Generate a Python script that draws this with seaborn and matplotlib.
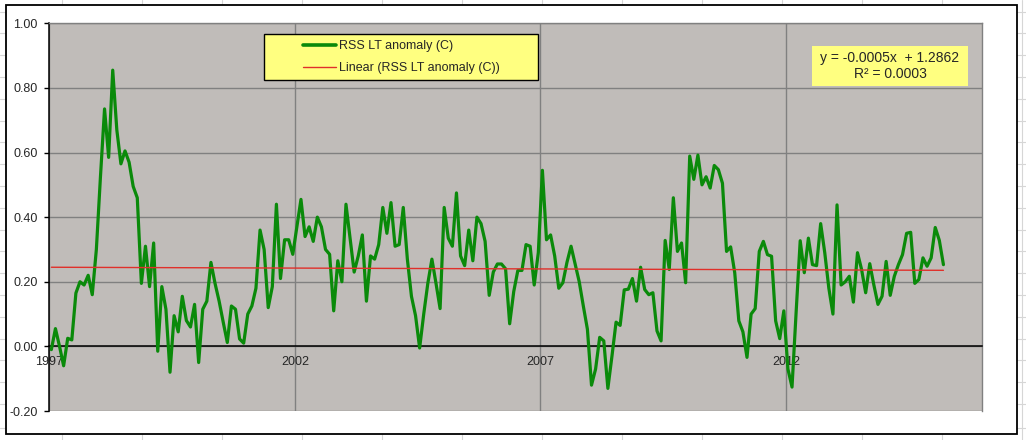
import numpy as np
import pandas as pd
import matplotlib
matplotlib.use("Agg")
import matplotlib.pyplot as plt
from matplotlib.patches import Rectangle
from matplotlib.lines import Line2D
from matplotlib.ticker import FormatStrFormatter
import seaborn as sns

# --- dados ---
start_year = 1997
anomaly = [
    -0.01, 0.055, 0.00, -0.06, 0.025, 0.02, 0.165, 0.20, 0.19, 0.22, 0.16, 0.30,      # 1997
    0.525, 0.735, 0.585, 0.855, 0.67, 0.565, 0.605, 0.57, 0.495, 0.46, 0.195, 0.31,   # 1998
    0.185, 0.32, -0.015, 0.185, 0.115, -0.08, 0.095, 0.045, 0.155, 0.08, 0.06, 0.13,  # 1999
    -0.05, 0.115, 0.14, 0.26, 0.195, 0.14, 0.075, 0.012, 0.125, 0.115, 0.023, 0.01,   # 2000
    0.10, 0.125, 0.18, 0.36, 0.30, 0.12, 0.185, 0.44, 0.21, 0.33, 0.33, 0.285,        # 2001
    0.37, 0.455, 0.34, 0.37, 0.325, 0.40, 0.37, 0.30, 0.285, 0.11, 0.265, 0.20,       # 2002
    0.44, 0.335, 0.23, 0.28, 0.345, 0.14, 0.28, 0.27, 0.315, 0.43, 0.35, 0.445,       # 2003
    0.31, 0.315, 0.43, 0.27, 0.155, 0.095, -0.005, 0.10, 0.195, 0.27, 0.195, 0.117,   # 2004
    0.43, 0.335, 0.31, 0.475, 0.28, 0.25, 0.36, 0.265, 0.40, 0.38, 0.325, 0.158,      # 2005
    0.23, 0.255, 0.255, 0.24, 0.07, 0.17, 0.235, 0.235, 0.315, 0.31, 0.19, 0.29,      # 2006
    0.545, 0.33, 0.345, 0.28, 0.18, 0.197, 0.26, 0.31, 0.255, 0.20, 0.125, 0.053,     # 2007
    -0.12, -0.07, 0.028, 0.017, -0.13, -0.03, 0.075, 0.065, 0.175, 0.177, 0.21, 0.14, # 2008
    0.245, 0.176, 0.16, 0.166, 0.048, 0.017, 0.328, 0.238, 0.46, 0.294, 0.32, 0.197,  # 2009
    0.589, 0.517, 0.592, 0.50, 0.525, 0.49, 0.56, 0.547, 0.505, 0.294, 0.308, 0.228,  # 2010
    0.079, 0.045, -0.034, 0.10, 0.117, 0.294, 0.325, 0.284, 0.279, 0.079, 0.024, 0.11,# 2011
    -0.07, -0.126, 0.105, 0.327, 0.228, 0.335, 0.253, 0.25, 0.38, 0.29, 0.18, 0.10,   # 2012
    0.438, 0.19, 0.20, 0.217, 0.137, 0.29, 0.238, 0.166, 0.256, 0.19, 0.13, 0.155,    # 2013
    0.263, 0.158, 0.217, 0.253, 0.284, 0.35, 0.353, 0.195, 0.207, 0.274, 0.248, 0.274,# 2014
    0.368, 0.328, 0.253,                                                              # 2015
]
x_ticks = [1997, 2002, 2007, 2012]
y_ticks = [-0.20, 0.00, 0.20, 0.40, 0.60, 0.80, 1.00]
series_label = "RSS LT anomaly (C)"
trend_label = "Linear (RSS LT anomaly (C))"
eq_text = "y = -0.0005x  + 1.2862"
r2_text = "R\u00b2 = 0.0003"

GREEN = "#0A8A0A"
RED = "#E0302A"
PLOT_BG = "#C0BCB9"
GRID = "#808080"
YELLOW = "#FFFF80"

df = pd.DataFrame({"anomaly": anomaly})
df["year"] = start_year + (np.arange(len(df)) + 0.5) / 12.0

slope, intercept = np.polyfit(df["year"], df["anomaly"], 1)
trend = pd.DataFrame({"year": df["year"].iloc[[0, -1]].values})
trend["fit"] = slope * trend["year"] + intercept

sns.set_style("white")
plt.rcParams["font.family"] = ["Liberation Sans", "DejaVu Sans"]
plt.rcParams["font.size"] = 9

W, H = 1026, 440
fig = plt.figure(figsize=(W / 100, H / 100), dpi=100)
fig.patch.set_facecolor("white")

def fx(px):
    return px / W

def fy(py):
    return 1 - py / H

# linhas da planilha por tras do grafico
for cx in np.arange(61.7, W, 80):
    fig.add_artist(Line2D([fx(cx), fx(cx)], [0, 1], color="#D6D6D6", lw=0.8, zorder=0))
for ry in np.arange(404, 0, -21.8):
    fig.add_artist(Line2D([0, 1], [fy(ry), fy(ry)], color="#D6D6D6", lw=0.8, zorder=0))
fig.add_artist(Line2D([0, 1], [fy(427.8), fy(427.8)], color="#D6D6D6", lw=0.8, zorder=0))

# area do grafico
fig.add_artist(Rectangle((fx(5.5), fy(434)), fx(1016.7) - fx(5.5), fy(5) - fy(434),
                         transform=fig.transFigure, facecolor="white",
                         edgecolor="black", lw=1.3, zorder=0.5))

ax = fig.add_axes([fx(49.3), fy(411), fx(982.3) - fx(49.3), fy(23.3) - fy(411)])
ax.set_zorder(1)
ax.set_facecolor(PLOT_BG)

sns.lineplot(data=df, x="year", y="anomaly", ax=ax, color=GREEN, lw=2.3, zorder=3)
sns.lineplot(data=trend, x="year", y="fit", ax=ax, color=RED, lw=1.0, zorder=4)

ax.set_xlim(1997, 2016)
ax.set_ylim(-0.2, 1.0)
ax.set_xticks(x_ticks)
ax.set_yticks(y_ticks)
ax.yaxis.set_major_formatter(FormatStrFormatter("%.2f"))
ax.set_xlabel("")
ax.set_ylabel("")

ax.grid(True, color=GRID, lw=1.0, zorder=1)
ax.set_axisbelow(True)

ax.spines["bottom"].set_position(("data", 0))
ax.spines["bottom"].set_color("black")
ax.spines["bottom"].set_linewidth(1.1)
ax.spines["left"].set_color("black")
ax.spines["left"].set_linewidth(1.1)
for s in ["top", "right"]:
    ax.spines[s].set_color(GRID)
    ax.spines[s].set_linewidth(1.0)

ax.tick_params(axis="y", direction="out", length=3.6, width=1, color="black",
               pad=4.6, labelsize=9, left=True)
ax.tick_params(axis="x", length=0, pad=7, labelsize=9, bottom=True)

# legenda
fig.add_artist(Rectangle((fx(264), fy(80)), fx(538.3) - fx(264), fy(34.3) - fy(80),
                         transform=fig.transFigure, facecolor=YELLOW,
                         edgecolor="black", lw=1.0, zorder=5))
handles = [Line2D([], [], color=GREEN, lw=2.6), Line2D([], [], color=RED, lw=1.0)]
leg = fig.legend(handles, [series_label, trend_label], loc="center",
                 bbox_to_anchor=(fx(401.2), fy(57.1)), frameon=False, fontsize=9,
                 handlelength=2.64, handletextpad=0.26, labelspacing=0.8,
                 borderpad=0)
leg.set_zorder(6)

# caixa da equacao
fig.add_artist(Rectangle((fx(812.3), fy(86)), fx(967.7) - fx(812.3), fy(46) - fy(86),
                         transform=fig.transFigure, facecolor=YELLOW,
                         edgecolor="none", zorder=5))
fig.text(fx(890), fy(58.3), eq_text, ha="center", va="center", fontsize=10, zorder=6)
fig.text(fx(890), fy(74), r2_text, ha="center", va="center", fontsize=10, zorder=6)

fig.savefig("out.png", dpi=100, facecolor=fig.get_facecolor())
print(slope, intercept, trend["fit"].values)
